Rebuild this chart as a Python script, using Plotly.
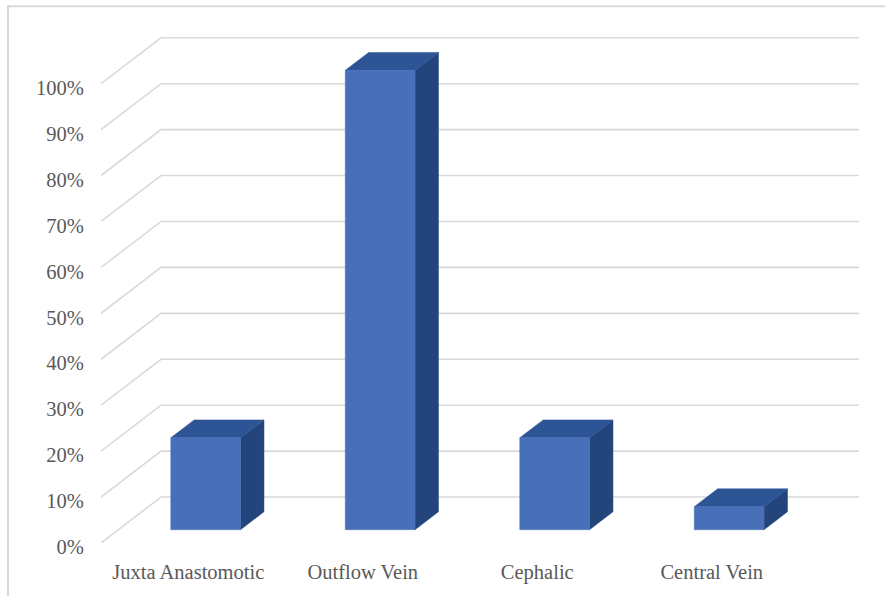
import plotly.graph_objects as go

# Data
categories = ["Juxta Anastomotic", "Outflow Vein", "Cephalic", "Central Vein"]
values = [20, 100, 20, 5]          # percent
tick_values = [0, 10, 20, 30, 40, 50, 60, 70, 80, 90, 100]

# Oblique 3D projection: depth z in [0, 1] shifts a point right and up
DEPTH_X = 0.344     # category units per full depth
DEPTH_Y = 10.0      # value units per full depth
BAR_Z0, BAR_Z1 = 0.29, 0.68
BAR_W = 0.4

FRONT = "#4770B8"
TOP = "#2D5596"
SIDE = "#23457B"
GRID = "#D9D9D9"
TEXT = "#595959"
FONT = "Liberation Serif, Times New Roman, serif"

n = len(categories)
x_left, x_right = -0.5, n - 0.5


def proj(x, y, z):
    return x + z * DEPTH_X, y + z * DEPTH_Y


fig = go.Figure()

# Side wall diagonals + back wall horizontal gridlines
gx, gy = [], []
for v in tick_values:
    p0 = proj(x_left, v, 0)
    p1 = proj(x_left, v, 1)
    p2 = proj(x_right, v, 1)
    gx += [p0[0], p1[0], p2[0], None]
    gy += [p0[1], p1[1], p2[1], None]
fig.add_trace(go.Scatter(x=gx, y=gy, mode="lines",
                         line=dict(color=GRID, width=1.6),
                         hoverinfo="skip", showlegend=False))


def face(pts, color):
    xs = [p[0] for p in pts] + [pts[0][0]]
    ys = [p[1] for p in pts] + [pts[0][1]]
    fig.add_trace(go.Scatter(x=xs, y=ys, mode="lines", fill="toself",
                             fillcolor=color, line=dict(color=color, width=0.5),
                             hoverinfo="skip", showlegend=False))


for i, v in enumerate(values):
    xl, xr = i - BAR_W / 2, i + BAR_W / 2
    # right side face
    face([proj(xr, 0, BAR_Z0), proj(xr, 0, BAR_Z1),
          proj(xr, v, BAR_Z1), proj(xr, v, BAR_Z0)], SIDE)
    # top face
    face([proj(xl, v, BAR_Z0), proj(xr, v, BAR_Z0),
          proj(xr, v, BAR_Z1), proj(xl, v, BAR_Z1)], TOP)
    # front face
    face([proj(xl, 0, BAR_Z0), proj(xr, 0, BAR_Z0),
          proj(xr, v, BAR_Z0), proj(xl, v, BAR_Z0)], FRONT)

fig.update_layout(
    width=885, height=596,
    margin=dict(l=101, r=15, t=28, b=50),
    paper_bgcolor="white", plot_bgcolor="white",
    font=dict(family=FONT, size=20.5, color=TEXT),
    showlegend=False,
    xaxis=dict(range=[x_left, -0.5 + 769 / 174.5],
               tickvals=list(range(n)), ticktext=categories,
               ticks="outside", ticklen=10, tickcolor="rgba(0,0,0,0)",
               showgrid=False, zeroline=False, showline=False,
               fixedrange=True),
    yaxis=dict(range=[0, 518 / 4.62],
               tickvals=tick_values,
               ticktext=[f"{v}%" for v in tick_values],
               ticks="outside", ticklen=12, tickcolor="rgba(0,0,0,0)",
               ticklabelshift=4,
               showgrid=False, zeroline=False, showline=False,
               fixedrange=True),
    shapes=[dict(type="rect", xref="paper", yref="paper",
                 x0=(8 - 101) / 769, x1=1.3,
                 y0=-0.3, y1=(546 - 6) / 518,
                 line=dict(color=GRID, width=2), layer="below")],
)

fig.write_html("out.html")
